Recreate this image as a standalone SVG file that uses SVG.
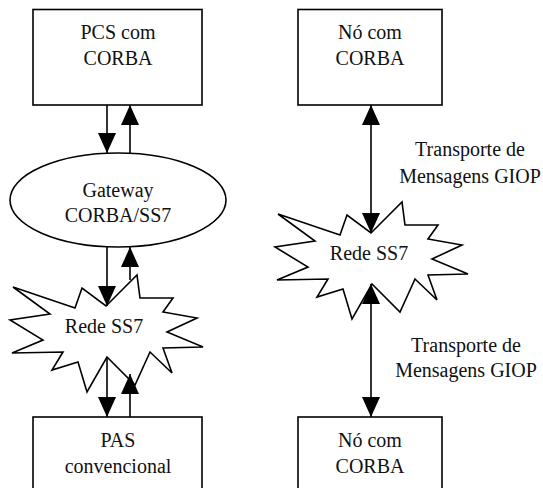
<svg xmlns="http://www.w3.org/2000/svg" xmlns:xlink="http://www.w3.org/1999/xlink" width="543" height="488" viewBox="0 0 543 488">
  <style>
    .box { fill: #fff; stroke: #000; stroke-width: 1.6; }
    .lbl { font-family: "Liberation Serif", "Times New Roman", serif; font-size: 20px; fill: #111; text-anchor: middle; }
    .wire { stroke: #000; stroke-width: 1.6; fill: none; }
  </style>
  <defs>
    <marker id="ah" viewBox="0 0 20 18" refX="20" refY="9" markerWidth="20" markerHeight="18" markerUnits="userSpaceOnUse" orient="auto-start-reverse">
      <path d="M0,0 L20,9 L0,18 z" fill="#000"/>
    </marker>
    <!-- burst outline, centred on the label anchor -->
    <polygon id="burst" points="-91,-46 -29,-25 -22,-45 2,-27 33,-58 36,-35 69,-35 59,-21 93,-15 63,-1 99,14 59,15 68,40 46,19 31,52 3,24 -17,59 -26,29 -52,37 -41,19 -92,20 -61,7 -94,-13 -54,-19"/>
  </defs>

  <!-- left column -->
  <g id="pcs-corba">
    <rect class="box" x="33" y="9.5" width="169" height="95.5"/>
    <text class="lbl" x="118" y="39">PCS com</text>
    <text class="lbl" x="118" y="65">CORBA</text>
  </g>
  <g id="gateway">
    <ellipse class="box" cx="118" cy="200" rx="108" ry="47"/>
    <text class="lbl" x="118" y="197">Gateway</text>
    <text class="lbl" x="118" y="222">CORBA/SS7</text>
  </g>
  <g id="rede-ss7-left">
    <use xlink:href="#burst" href="#burst" class="box" transform="translate(104,333)"/>
    <text class="lbl" x="104" y="333">Rede SS7</text>
  </g>
  <g id="pas">
    <rect class="box" x="33" y="417" width="169" height="80"/>
    <text class="lbl" x="118" y="447">PAS</text>
    <text class="lbl" x="118" y="473">convencional</text>
  </g>

  <!-- right column -->
  <g id="no-corba-top">
    <rect class="box" x="298" y="9.5" width="144" height="95.5"/>
    <text class="lbl" x="370" y="39">Nó com</text>
    <text class="lbl" x="370" y="65">CORBA</text>
  </g>
  <g id="rede-ss7-right">
    <use xlink:href="#burst" href="#burst" class="box" transform="translate(369,260)"/>
    <text class="lbl" x="369" y="260">Rede SS7</text>
  </g>
  <g id="no-corba-bottom">
    <rect class="box" x="298" y="417" width="144" height="80"/>
    <text class="lbl" x="370" y="447">Nó com</text>
    <text class="lbl" x="370" y="473">CORBA</text>
  </g>

  <g id="connectors">
    <line class="wire" x1="107" y1="105" x2="107" y2="153" marker-end="url(#ah)"/>
    <line class="wire" x1="130" y1="154" x2="130" y2="105" marker-end="url(#ah)"/>
    <line class="wire" x1="107" y1="247" x2="107" y2="306" marker-end="url(#ah)"/>
    <line class="wire" x1="130" y1="280" x2="130" y2="247" marker-end="url(#ah)"/>
    <line class="wire" x1="107" y1="357" x2="107" y2="417" marker-end="url(#ah)"/>
    <line class="wire" x1="130" y1="417" x2="130" y2="374" marker-end="url(#ah)"/>
    <line class="wire" x1="371" y1="105" x2="371" y2="233" marker-start="url(#ah)" marker-end="url(#ah)"/>
    <line class="wire" x1="371" y1="284" x2="371" y2="417" marker-start="url(#ah)" marker-end="url(#ah)"/>
  </g>

  <g id="labels">
    <text class="lbl" x="470" y="156">Transporte de</text>
    <text class="lbl" x="470" y="183">Mensagens GIOP</text>
    <text class="lbl" x="466" y="352">Transporte de</text>
    <text class="lbl" x="466" y="377">Mensagens GIOP</text>
  </g>
</svg>
